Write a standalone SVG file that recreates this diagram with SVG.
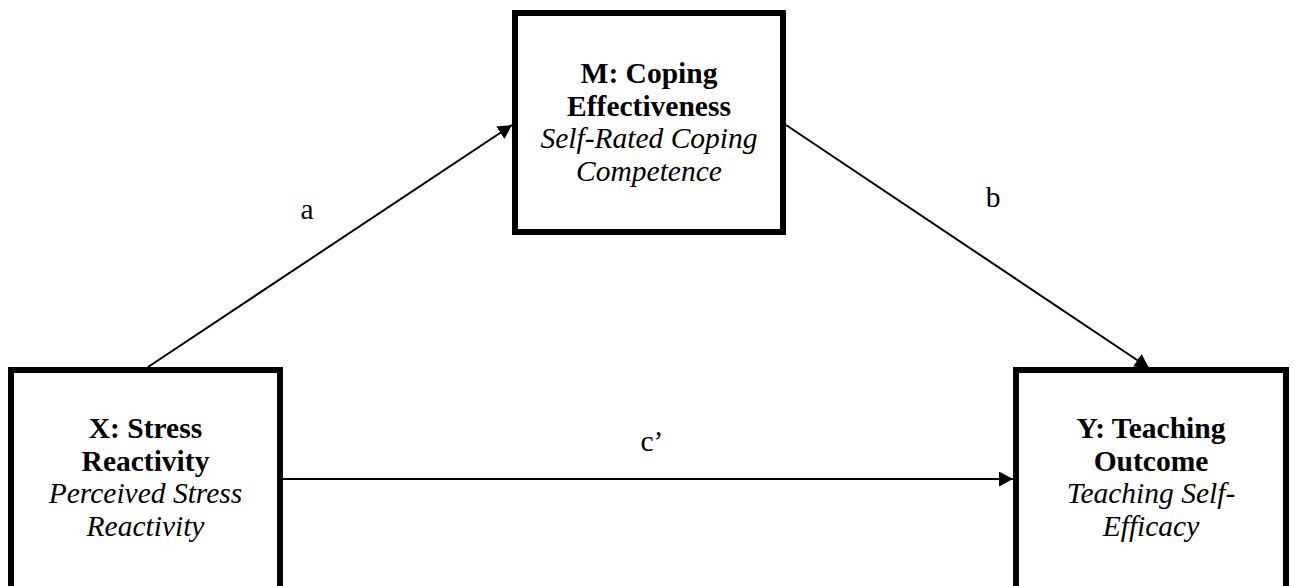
<svg xmlns="http://www.w3.org/2000/svg" width="1295" height="586" viewBox="0 0 1295 586">
  <style>
    .box { fill: #ffffff; stroke: #000000; stroke-width: 6; }
    .edge { stroke: #000000; stroke-width: 2; fill: none; }
    .t { font-family: "Liberation Serif", "Times New Roman", serif; font-size: 29.5px; fill: #000000; text-anchor: middle; }
    .b { font-weight: bold; }
    .i { font-style: italic; }
    .lbl { font-family: "Liberation Serif", "Times New Roman", serif; font-size: 29.5px; fill: #000000; text-anchor: middle; }
  </style>
  <defs>
    <marker id="arrow" markerUnits="userSpaceOnUse" markerWidth="15" markerHeight="15" refX="14" refY="7.5" orient="auto">
      <path d="M0,0 L14,7.5 L0,15 Z" fill="#000000"/>
    </marker>
  </defs>
  <rect width="1295" height="586" fill="#ffffff"/>

  <!-- paths a, b and c' -->
  <g id="connectors">
    <line class="edge" x1="148" y1="367" x2="512" y2="125" marker-end="url(#arrow)"/>
    <line class="edge" x1="786" y1="125" x2="1149" y2="368" marker-end="url(#arrow)"/>
    <line class="edge" x1="283" y1="479" x2="1013" y2="479" marker-end="url(#arrow)"/>
    <text class="lbl" x="307" y="219">a</text>
    <text class="lbl" x="993" y="207">b</text>
    <text class="lbl" x="652" y="451">c’</text>
  </g>

  <!-- mediator -->
  <g id="node-m">
    <rect class="box" x="515" y="13" width="268" height="219"/>
    <text class="t b" x="649" y="83">M: Coping</text>
    <text class="t b" x="649" y="115.5">Effectiveness</text>
    <text class="t i" x="649" y="148">Self-Rated Coping</text>
    <text class="t i" x="649" y="180.5">Competence</text>
  </g>

  <!-- predictor -->
  <g id="node-x">
    <rect class="box" x="11" y="370" width="269" height="230"/>
    <text class="t b" x="145.5" y="438">X: Stress</text>
    <text class="t b" x="145.5" y="470.5">Reactivity</text>
    <text class="t i" x="145.5" y="503">Perceived Stress</text>
    <text class="t i" x="145.5" y="535.5">Reactivity</text>
  </g>

  <!-- outcome -->
  <g id="node-y">
    <rect class="box" x="1016" y="370" width="270" height="230"/>
    <text class="t b" x="1151" y="438">Y: Teaching</text>
    <text class="t b" x="1151" y="470.5">Outcome</text>
    <text class="t i" x="1151" y="503">Teaching Self-</text>
    <text class="t i" x="1151" y="535.5">Efficacy</text>
  </g>
</svg>
